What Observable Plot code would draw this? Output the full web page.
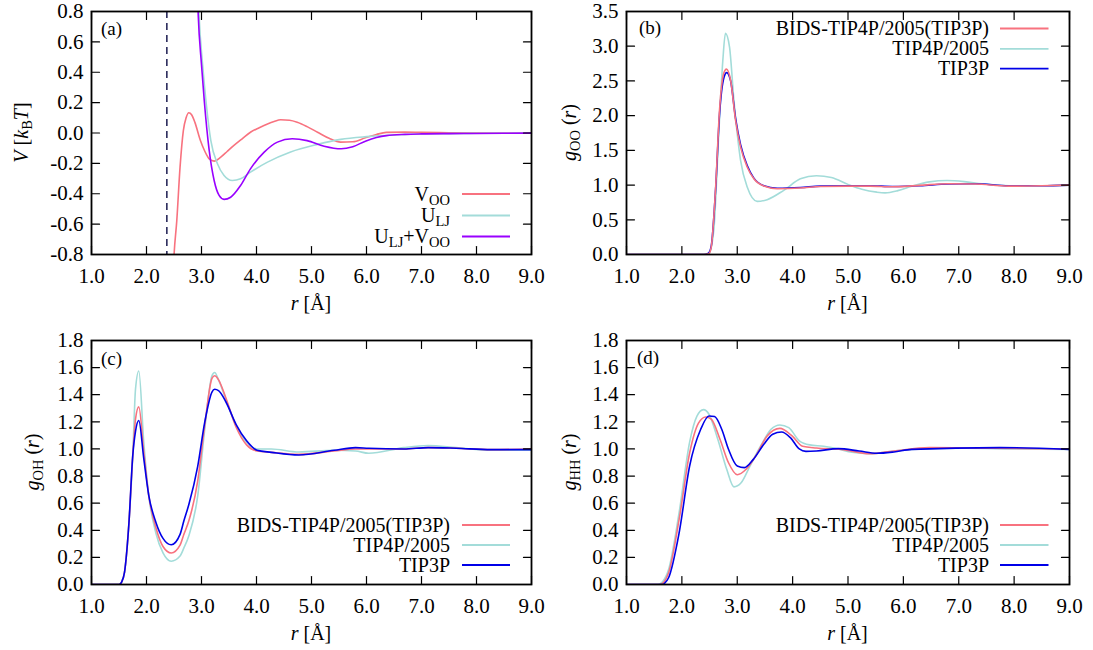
<!DOCTYPE html>
<html><head><meta charset="utf-8">
<script src="https://cdn.jsdelivr.net/npm/d3@7"></script>
<script src="https://cdn.jsdelivr.net/npm/@observablehq/plot@0.6"></script>
<style>
body{margin:0;background:#fff;}
#wrap{position:relative;width:1093px;height:650px;background:#fff;}
#wrap svg{position:absolute;}
text{white-space:pre;}
</style></head><body><div id="wrap"></div>
<script>
// ---------- ticks ----------
const xDomain = [1, 9];
const xTicks = [1, 2, 3, 4, 5, 6, 7, 8, 9];
const yTicksA = [-0.8, -0.6, -0.4, -0.2, 0, 0.2, 0.4, 0.6, 0.8];
const yTicksB = [0, 0.5, 1, 1.5, 2, 2.5, 3, 3.5];
const yTicksCD = [0, 0.2, 0.4, 0.6, 0.8, 1, 1.2, 1.4, 1.6, 1.8];
const cutoffR = [2.37];

// ---------- panel (a): potentials ----------
const rVoo = [2.40, 2.50, 2.55, 2.61, 2.67, 2.72, 2.77, 2.82, 2.88, 2.98, 3.06, 3.14, 3.23, 3.35, 3.47, 3.59, 3.74, 3.89, 4.05, 4.20, 4.32, 4.44, 4.60, 4.74, 4.92, 5.11, 5.32, 5.53, 5.75, 5.98, 6.18, 6.36, 6.70, 7.00, 7.50, 8.00, 8.50, 9.00];
const vVoo = [-2.0, -0.81, -0.58, -0.225, 0.016, 0.10, 0.133, 0.12, 0.07, -0.05, -0.12, -0.17, -0.185, -0.159, -0.12, -0.082, -0.038, 0.005, 0.035, 0.06, 0.076, 0.087, 0.084, 0.071, 0.042, 0.005, -0.035, -0.06, -0.058, -0.032, -0.01, 0.004, 0.006, 0.004, 0.002, 0.001, 0.0, 0.0];
const rUlj = [2.85, 2.955, 3.02, 3.08, 3.17, 3.29, 3.41, 3.56, 3.71, 3.89, 4.20, 4.62, 5.11, 5.53, 6.00, 6.50, 7.00, 7.50, 8.00, 9.00];
const vUlj = [2.2, 0.78, 0.45, 0.214, -0.05, -0.203, -0.28, -0.313, -0.302, -0.258, -0.192, -0.125, -0.075, -0.042, -0.024, -0.013, -0.007, -0.004, -0.002, -0.001];
const rSum = [2.85, 2.94, 3.00, 3.05, 3.14, 3.23, 3.32, 3.41, 3.53, 3.71, 3.89, 4.14, 4.38, 4.65, 4.92, 5.23, 5.54, 5.75, 5.98, 6.18, 6.36, 6.70, 7.00, 7.50, 8.00, 9.00];
const vSum = [2.2, 0.78, 0.45, 0.214, -0.115, -0.313, -0.411, -0.437, -0.423, -0.346, -0.236, -0.126, -0.06, -0.038, -0.05, -0.087, -0.104, -0.09, -0.054, -0.03, -0.017, -0.009, -0.006, -0.004, -0.003, -0.001];

// ---------- panel (b): g_OO ----------
const rOO4 = [1.0, 2.40, 2.486, 2.576, 2.666, 2.74, 2.787, 2.86, 2.94, 3.06, 3.18, 3.36, 3.54, 3.84, 4.14, 4.43, 4.70, 5.00, 5.25, 5.52, 5.67, 5.90, 6.15, 6.47, 6.79, 7.10, 7.42, 7.74, 8.06, 8.50, 9.00];
const gOO4 = [0, 0, 0.01, 0.346, 1.74, 2.80, 3.185, 2.99, 2.22, 1.357, 0.971, 0.765, 0.79, 0.924, 1.09, 1.135, 1.11, 1.01, 0.94, 0.898, 0.888, 0.92, 0.984, 1.046, 1.065, 1.05, 1.018, 0.998, 0.99, 0.99, 1.0];
const rOOB = [1.0, 2.40, 2.486, 2.53, 2.61, 2.68, 2.756, 2.805, 2.88, 2.97, 3.06, 3.18, 3.30, 3.48, 3.72, 4.14, 4.50, 5.00, 5.40, 5.80, 6.30, 6.80, 7.30, 7.90, 8.50, 9.00];
const gOOB = [0, 0, 0.01, 0.105, 0.97, 2.08, 2.61, 2.67, 2.51, 1.93, 1.55, 1.26, 1.09, 0.986, 0.948, 0.957, 0.98, 0.985, 0.985, 0.975, 0.995, 1.02, 1.015, 0.985, 0.99, 1.0];
const rOO3 = [1.0, 2.40, 2.48, 2.53, 2.61, 2.68, 2.76, 2.81, 2.88, 2.97, 3.06, 3.18, 3.30, 3.48, 3.72, 4.14, 4.50, 5.00, 5.40, 5.80, 6.30, 6.80, 7.30, 7.90, 8.50, 9.00];
const gOO3 = [0, 0, 0.02, 0.12, 0.95, 2.02, 2.55, 2.62, 2.50, 1.96, 1.58, 1.28, 1.10, 0.99, 0.955, 0.965, 0.985, 0.99, 0.99, 0.98, 0.99, 1.015, 1.02, 0.99, 0.99, 1.0];

// ---------- panel (c): g_OH ----------
const rOH = [1.00, 1.50, 1.55, 1.60, 1.68, 1.75, 1.80, 1.86, 1.95, 2.04, 2.17, 2.30, 2.45, 2.61, 2.68, 2.77, 2.93, 3.06, 3.19, 3.24, 3.31, 3.44, 3.63, 3.82, 4.01, 4.27, 4.77, 5.41, 5.80, 6.04, 6.68, 7.12, 7.63, 8.27, 9.00];
const gOH4 = [0, 0, 0.02, 0.09, 0.45, 0.95, 1.44, 1.575, 1.05, 0.66, 0.38, 0.234, 0.172, 0.21, 0.27, 0.36, 0.65, 1.15, 1.54, 1.564, 1.51, 1.37, 1.17, 1.05, 1.0, 1.0, 0.978, 0.99, 0.985, 0.968, 1.01, 1.025, 1.01, 0.99, 0.99];
const gOHB = [0, 0, 0.02, 0.09, 0.45, 0.95, 1.22, 1.31, 0.98, 0.66, 0.42, 0.28, 0.232, 0.29, 0.37, 0.47, 0.76, 1.18, 1.52, 1.54, 1.51, 1.38, 1.16, 1.03, 0.985, 0.975, 0.96, 0.985, 1.0, 1.0, 1.0, 1.01, 1.005, 0.995, 1.0];
const gOH3 = [0, 0, 0.02, 0.09, 0.45, 0.95, 1.13, 1.21, 0.93, 0.66, 0.46, 0.34, 0.293, 0.37, 0.47, 0.59, 0.87, 1.2, 1.42, 1.44, 1.43, 1.35, 1.18, 1.06, 0.99, 0.975, 0.955, 0.99, 1.01, 1.005, 1.0, 1.01, 1.005, 0.995, 0.995];

// ---------- panel (d): g_HH ----------
const rHH4 = [1.0, 1.57, 1.65, 1.76, 1.95, 2.14, 2.27, 2.39, 2.49, 2.65, 2.81, 2.94, 3.07, 3.23, 3.42, 3.61, 3.77, 3.93, 4.12, 4.31, 4.56, 4.82, 5.07, 5.39, 5.83, 6.15, 7.10, 8.00, 9.00];
const gHH4 = [0, 0, 0.02, 0.11, 0.53, 1.05, 1.24, 1.29, 1.256, 1.07, 0.85, 0.72, 0.75, 0.874, 1.02, 1.145, 1.177, 1.157, 1.06, 1.03, 1.02, 1.0, 0.975, 0.965, 0.985, 0.997, 1.005, 1.0, 0.997];
const rHHB = [1.0, 1.60, 1.68, 1.76, 1.95, 2.14, 2.30, 2.43, 2.53, 2.69, 2.84, 3.00, 3.16, 3.35, 3.54, 3.77, 3.99, 4.18, 4.43, 4.88, 5.39, 5.83, 6.47, 7.50, 9.00];
const gHHB = [0, 0, 0.02, 0.086, 0.48, 0.97, 1.19, 1.236, 1.22, 1.07, 0.9, 0.81, 0.85, 0.96, 1.096, 1.152, 1.096, 1.02, 1.007, 0.997, 0.965, 0.985, 1.01, 1.005, 1.0];
const rHH3 = [1.0, 1.65, 1.70, 1.76, 1.95, 2.14, 2.34, 2.49, 2.59, 2.72, 2.84, 3.00, 3.13, 3.29, 3.48, 3.64, 3.80, 3.96, 4.12, 4.24, 4.43, 4.82, 5.20, 5.52, 5.83, 6.15, 7.74, 9.00];
const gHH3 = [0, 0, 0.015, 0.05, 0.38, 0.874, 1.145, 1.243, 1.239, 1.145, 1.0, 0.874, 0.862, 0.923, 1.034, 1.108, 1.125, 1.083, 1.0, 0.982, 0.985, 1.002, 0.985, 0.968, 0.978, 0.997, 1.01, 0.997];

// ---------- styles ----------
const PINK = "#f8727f", CYAN = "#a3dcd9", PURPLE = "#9900ff", BLUE = "#0000e8";
const FONT = '"Liberation Serif", "Times New Roman", serif';
const fmt = d => (+d).toFixed(1);
const tickShape = {draw(ctx, l) { ctx.moveTo(0, 0); ctx.lineTo(0, -l); }};
const pts = (r, v) => r.map((rr, i) => ({r: rr, v: v[i]}));

function rich(sel, parts) {
  let shifted = false;
  for (const [txt, st] of parts) {
    const ts = sel.append("tspan").text(txt);
    if (st.includes("i")) ts.attr("font-style", "italic");
    if (st.includes("s")) {
      ts.attr("font-size", 14.5);
      if (!shifted) { ts.attr("dy", 4); shifted = true; }
    } else if (shifted) { ts.attr("dy", -4); shifted = false; }
  }
}

function makePanel(cfg) {
  const {left, top, w, h, mL, mR, mT, mB, yDomain, yTicks, series, extra = []} = cfg;
  const [x0, x1] = xDomain, [y0, y1] = yDomain;
  const tk = {length: 8, anchor: "start", shape: tickShape, stroke: "#000", strokeWidth: 1.2};
  const svg = Plot.plot({
    width: w, height: h, marginLeft: mL, marginRight: mR, marginTop: mT, marginBottom: mB,
    style: {fontFamily: FONT, fontSize: "21px", color: "#000", background: "transparent", overflow: "visible"},
    x: {domain: xDomain, ticks: xTicks, tickFormat: fmt, tickSize: 0, tickPadding: 14, label: null},
    y: {domain: yDomain, ticks: yTicks, tickFormat: fmt, tickSize: 0, tickPadding: 8, label: null},
    marks: [
      ...extra,
      ...series.map(s => Plot.line(pts(s.r, s.v), {x: "r", y: "v", stroke: s.color, strokeWidth: 1.6, curve: "monotone-x", clip: true})),
      Plot.vector(xTicks, {x: d => d, y: () => y0, rotate: 0, ...tk}),
      Plot.vector(xTicks, {x: d => d, y: () => y1, rotate: 180, ...tk}),
      Plot.vector(yTicks, {x: () => x0, y: d => d, rotate: 90, ...tk}),
      Plot.vector(yTicks, {x: () => x1, y: d => d, rotate: -90, ...tk}),
      Plot.frame({stroke: "#000", strokeWidth: 1.8})
    ]
  });
  svg.style.left = left + "px";
  svg.style.top = top + "px";
  document.getElementById("wrap").appendChild(svg);
  const g = d3.select(svg).append("g").attr("font-family", FONT).attr("font-size", 20)
    .attr("fill", "#000").attr("text-anchor", "start");
  // panel label
  g.append("text").attr("x", cfg.lab[0]).attr("y", cfg.lab[1]).attr("font-size", 19)
    .attr("text-anchor", "start").text(cfg.lab[2]);
  // x title
  rich(g.append("text").attr("x", cfg.xt[0]).attr("y", cfg.xt[1]).attr("text-anchor", "middle"), [["r", "i"], [" [Å]", ""]]);
  // y title
  rich(g.append("text").attr("transform", `translate(${cfg.yt[0]},${cfg.yt[1]}) rotate(-90)`).attr("text-anchor", "middle"), cfg.yt[2]);
  // legend
  cfg.legend.items.forEach((it, i) => {
    const ly = cfg.legend.ys[i];
    rich(g.append("text").attr("x", cfg.legend.tx).attr("y", ly + 6.5).attr("text-anchor", "end"), it.label);
    g.append("line").attr("x1", cfg.legend.x1).attr("x2", cfg.legend.x2).attr("y1", ly).attr("y2", ly)
      .attr("stroke", it.color).attr("stroke-width", 1.8);
  });
}

const legRDF = [
  {label: [["BIDS-TIP4P/2005(TIP3P)", ""]], color: PINK},
  {label: [["TIP4P/2005", ""]], color: CYAN},
  {label: [["TIP3P", ""]], color: BLUE}
];

// (a)
makePanel({
  left: 0, top: 0, w: 546, h: 325, mL: 91, mR: 15, mT: 11, mB: 71,
  yDomain: [-0.8, 0.8], yTicks: yTicksA,
  extra: [Plot.ruleX(cutoffR, {x: d => d, stroke: "#1c1c50", strokeWidth: 1.5, strokeDasharray: "7,5"})],
  series: [{r: rVoo, v: vVoo, color: PINK}, {r: rUlj, v: vUlj, color: CYAN}, {r: rSum, v: vSum, color: PURPLE}],
  lab: [101, 35, "(a)"],
  xt: [311, 310],
  yt: [28, 132.5, [["V", "i"], [" [", ""], ["k", "i"], ["B", "s"], ["T", "i"], ["]", ""]]],
  legend: {tx: 450, x1: 462, x2: 510, ys: [194, 215.5, 236.5], items: [
    {label: [["V", ""], ["OO", "s"]], color: PINK},
    {label: [["U", ""], ["LJ", "s"]], color: CYAN},
    {label: [["U", ""], ["LJ", "s"], ["+V", ""], ["OO", "s"]], color: PURPLE}
  ]}
});

// (b)
makePanel({
  left: 546, top: 0, w: 547, h: 325, mL: 80, mR: 24, mT: 11, mB: 71,
  yDomain: [0, 3.5], yTicks: yTicksB,
  series: [{r: rOO4, v: gOO4, color: CYAN}, {r: rOO3, v: gOO3, color: BLUE}, {r: rOOB, v: gOOB, color: PINK}],
  lab: [93, 34, "(b)"],
  xt: [301.5, 310],
  yt: [30, 132.5, [["g", "i"], ["OO", "s"], [" (", ""], ["r", "i"], [")", ""]]],
  legend: {tx: 443, x1: 454, x2: 502.5, ys: [28.5, 48.8, 68.7], items: legRDF}
});

// (c)
makePanel({
  left: 0, top: 325, w: 546, h: 325, mL: 91, mR: 15, mT: 15, mB: 66,
  yDomain: [0, 1.8], yTicks: yTicksCD,
  series: [{r: rOH, v: gOH4, color: CYAN}, {r: rOH, v: gOHB, color: PINK}, {r: rOH, v: gOH3, color: BLUE}],
  lab: [101, 39.5, "(c)"],
  xt: [311, 315],
  yt: [38.5, 137, [["g", "i"], ["OH", "s"], [" (", ""], ["r", "i"], [")", ""]]],
  legend: {tx: 450, x1: 462, x2: 510, ys: [200, 220, 240], items: legRDF}
});

// (d)
makePanel({
  left: 546, top: 325, w: 547, h: 325, mL: 80, mR: 24, mT: 15, mB: 66,
  yDomain: [0, 1.8], yTicks: yTicksCD,
  series: [{r: rHH4, v: gHH4, color: CYAN}, {r: rHHB, v: gHHB, color: PINK}, {r: rHH3, v: gHH3, color: BLUE}],
  lab: [91, 38.5, "(d)"],
  xt: [301.5, 315],
  yt: [30, 137, [["g", "i"], ["HH", "s"], [" (", ""], ["r", "i"], [")", ""]]],
  legend: {tx: 443, x1: 454, x2: 502.5, ys: [200, 220, 240], items: legRDF}
});
</script></body></html>
